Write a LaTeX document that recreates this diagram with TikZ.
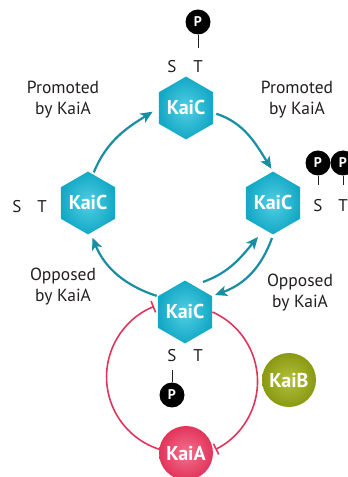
\documentclass[tikz,border=0pt]{standalone}
\usepackage{fontspec}
\setmainfont{PT Sans}
\usetikzlibrary{arrows.meta,shapes.geometric}
\definecolor{tealc}{HTML}{178EA2}
\definecolor{hexin}{HTML}{52CFE4}
\definecolor{hexout}{HTML}{13A8C5}
\definecolor{redc}{HTML}{E0365E}
\definecolor{kaiAin}{HTML}{F2728E}
\definecolor{kaiAout}{HTML}{E2345B}
\definecolor{kaiBin}{HTML}{B3C03C}
\definecolor{kaiBout}{HTML}{8A9912}
\definecolor{txt}{HTML}{231F20}
\tikzset{
  hexnode/.style={regular polygon, regular polygon sides=6, shape border rotate=30,
    minimum size=60pt, inner sep=0pt, inner color=hexin, outer color=hexout,
    text=white, font=\fontsize{20}{20}\selectfont\bfseries},
  ballnode/.style={circle, minimum size=54pt, inner sep=0pt, text=white,
    font=\fontsize{20}{20}\selectfont\bfseries},
  pnode/.style={circle, fill=black, minimum size=25pt, inner sep=0pt, text=white,
    font=\fontsize{14}{14}\selectfont\bfseries},
  lbl/.style={font=\fontsize{17.5}{21}\selectfont, align=center, text=txt, inner sep=0pt},
  stnode/.style={font=\fontsize{17}{17}\selectfont, text=txt, inner sep=1pt},
  pline/.style={draw=txt, line width=0.9pt},
  tealarr/.style={draw=tealc, line width=2.2pt, -{Stealth[length=12pt,width=10.5pt,inset=3pt]}},
  inhib/.style={draw=redc, line width=1.6pt, -{Bar[width=12pt,line width=1.6pt]}}
}
\begin{document}
\begin{tikzpicture}[x=1pt,y=1pt]
\useasboundingbox (0,0) rectangle (348,477);
\fill[white] (0,0) rectangle (348,477);

% KaiC hexagons
\node[hexnode] (T) at (186,369) {KaiC};
\node[hexnode] (L) at (88,274) {KaiC};
\node[hexnode] (R) at (273,274) {KaiC};
\node[hexnode] (B) at (185,165) {KaiC};

% KaiA, KaiB
\node[ballnode, inner color=kaiAin, outer color=kaiAout] (A) at (186,24) {KaiA};
\node[ballnode, inner color=kaiBin, outer color=kaiBout] (KB) at (289,97) {KaiB};

% labels
\node[lbl] (l1) at (63,377) {Promoted\\by KaiA};
\node[lbl] (l2) at (297,377) {Promoted\\by KaiA};
\node[lbl] (l3) at (63,190) {Opposed\\by KaiA};
\node[lbl] (l4) at (300,184) {Opposed\\by KaiA};

% top S T P
\node[stnode] (TS) at (172,410) {S};
\node[stnode] (TT) at (198,410) {T};
\node[pnode] (TP) at (198,455) {P};
\draw[pline, shorten >=12pt] (TP) -- (TT);

% right S T P P
\node[stnode] (RS) at (318,271) {S};
\node[stnode] (RT) at (343,271) {T};
\node[pnode] (RP1) at (318,314) {P};
\node[pnode] (RP2) at (343,314) {P};
\draw[pline, shorten >=14pt] (RP1) -- (RS);
\draw[pline, shorten >=14pt] (RP2) -- (RT);

% left S T
\node[stnode] (LS) at (17,270) {S};
\node[stnode] (LT) at (42,270) {T};

% bottom S T P
\node[stnode] (BS) at (172,121) {S};
\node[stnode] (BT) at (198,121) {T};
\node[pnode] (BP) at (172,82) {P};
\draw[pline, shorten >=7pt] (BP) -- (BS);

% teal cycle arrows
\draw[tealarr, shorten <=2pt, shorten >=7pt] (L.80) to[out=68,in=212] (T.west);
\draw[tealarr, shorten <=3pt, shorten >=3pt] (T.-10) to[out=-18,in=122] (R.north);
\draw[tealarr, shorten <=1pt, shorten >=5pt] (B.150) to[out=162,in=-68] (L.-85);
\draw[tealarr] ([shift={(18pt,30pt)}]B.center) to[out=20,in=230] ([shift={(-15pt,-34pt)}]R.center);
\draw[tealarr] ([shift={(-1pt,-35pt)}]R.center) to[out=250,in=20] ([shift={(30pt,17pt)}]B.center);

% red inhibition arcs
\draw[inhib] (A.172) arc[start angle=252, end angle=112, radius=76pt];
\draw[inhib] (B.east) arc[start angle=66, end angle=-63.5, radius=76pt];
\end{tikzpicture}
\end{document}
